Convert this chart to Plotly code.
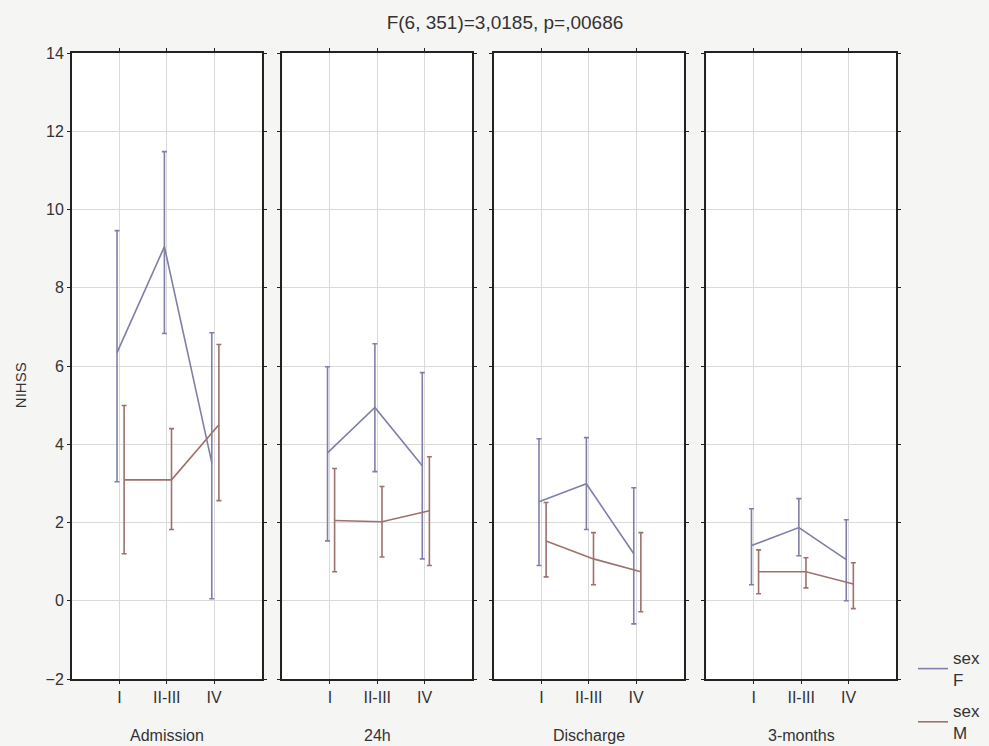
import plotly.graph_objects as go
from plotly.subplots import make_subplots

# ---- data ----
stages = ["Admission", "24h", "Discharge", "3-months"]
grades = ["I", "II-III", "IV"]
y_ticks = [-2, 0, 2, 4, 6, 8, 10, 12, 14]

f_mean = [[6.34, 9.05, 3.53], [3.78, 4.94, 3.45], [2.53, 2.99, 1.20], [1.41, 1.87, 1.05]]
f_upper = [[9.46, 11.48, 6.85], [5.98, 6.57, 5.83], [4.14, 4.17, 2.89], [2.35, 2.61, 2.07]]
f_lower = [[3.04, 6.83, 0.05], [1.53, 3.30, 1.07], [0.90, 1.82, -0.59], [0.41, 1.15, 0.00]]

m_mean = [[3.09, 3.09, 4.50], [2.05, 2.02, 2.30], [1.53, 1.07, 0.74], [0.74, 0.74, 0.43]]
m_upper = [[4.99, 4.40, 6.55], [3.38, 2.92, 3.68], [2.51, 1.74, 1.74], [1.30, 1.10, 0.97]]
m_lower = [[1.20, 1.82, 2.56], [0.74, 1.12, 0.90], [0.61, 0.41, -0.28], [0.18, 0.33, -0.20]]

series = [
    ("sex<br>F", "#7F7FA8", -0.05, f_mean, f_upper, f_lower),
    ("sex<br>M", "#9C726C", 0.10, m_mean, m_upper, m_lower),
]

title_text = "F(6, 351)=3,0185, p=,00686"
y_title = "NIHSS"

# ---- figure ----
W, H = 989, 746
L, R, T, B = 72, 91, 53, 67
plot_w = W - L - R
plot_h = H - T - B
lefts = [72, 283, 495, 708]
panel_w = 190

fig = make_subplots(rows=1, cols=4, shared_yaxes=True)

for si, (name, color, off, mean, up, lo) in enumerate(series):
    for p in range(4):
        xs = [i + 1 + off for i in range(len(grades))]
        fig.add_trace(go.Scatter(
            x=xs, y=mean[p], mode="lines",
            name=name, legendgroup=name, showlegend=(p == 0),
            line=dict(color=color, width=1.6),
            error_y=dict(type="data", symmetric=False,
                         array=[u - m for u, m in zip(up[p], mean[p])],
                         arrayminus=[m - l for m, l in zip(mean[p], lo[p])],
                         color=color, thickness=1.6, width=2.5),
            hoverinfo="skip",
        ), row=1, col=p + 1)

font_family = "Liberation Sans, Arial, sans-serif"
txt = "#333333"
for p in range(4):
    x0 = max(0.0, (lefts[p] - L) / plot_w)
    x1 = min(1.0, (lefts[p] + panel_w - L) / plot_w)
    ax = "xaxis" if p == 0 else f"xaxis{p+1}"
    fig.layout[ax].update(
        domain=[x0, x1], range=[0, 4],
        tickvals=[1, 2, 3], ticktext=grades,
        showgrid=True, gridcolor="#DADADA", gridwidth=1,
        showline=True, linecolor="#222222", linewidth=2, mirror="ticks",
        ticks="outside", ticklen=3, tickcolor="#222222",
        zeroline=False, tickfont=dict(size=16, color=txt),
    )
    yx = "yaxis" if p == 0 else f"yaxis{p+1}"
    fig.layout[yx].update(
        range=[-2, 14], tickvals=y_ticks,
        showgrid=True, gridcolor="#DADADA", gridwidth=1,
        showline=True, linecolor="#222222", linewidth=2, mirror="ticks",
        ticks="outside", ticklen=3, tickcolor="#222222",
        zeroline=False, showticklabels=(p == 0),
        tickfont=dict(size=16, color=txt),
    )
    fig.add_annotation(
        text=stages[p], xref="paper", yref="paper",
        x=(lefts[p] + panel_w / 2 - L) / plot_w, y=-(735 - 679) / plot_h,
        showarrow=False, font=dict(size=16, color=txt, family=font_family),
        xanchor="center", yanchor="middle",
    )

fig.add_annotation(
    text=y_title, xref="paper", yref="paper",
    x=(20 - L) / plot_w, y=(679 - 385) / plot_h, textangle=-90,
    showarrow=False, font=dict(size=15, color=txt, family=font_family),
    xanchor="center", yanchor="middle",
)

fig.update_layout(
    width=W, height=H,
    margin=dict(l=L, r=R, t=T, b=B),
    paper_bgcolor="#F5F5F3", plot_bgcolor="#FFFFFF",
    font=dict(family=font_family, color=txt),
    title=dict(text=title_text, x=505 / W, xanchor="center", y=1 - 22 / H,
               yanchor="middle", font=dict(size=19, color=txt)),
    legend=dict(xref="container", yref="container",
                x=913 / W, y=1 - 640 / H, xanchor="left", yanchor="top",
                bgcolor="rgba(0,0,0,0)", font=dict(size=17, color=txt),
                tracegroupgap=6, itemwidth=30),
    showlegend=True,
)

fig.write_html("out.html", post_script="document.body.style.margin='0';",
               config={"displayModeBar": False})
